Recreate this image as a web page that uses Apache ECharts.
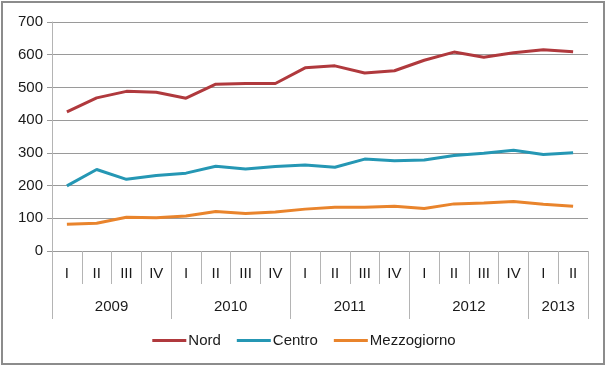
<!DOCTYPE html>
<html>
<head>
<meta charset="utf-8">
<script src="https://cdn.jsdelivr.net/npm/echarts@6/dist/echarts.min.js"></script>
<style>
  html, body { margin: 0; padding: 0; background: #fff; }
  #wrap { position: relative; width: 608px; height: 368px; }
  #chart { position: absolute; left: 0; top: 0; width: 608px; height: 368px; }
  #frame { position: absolute; left: 1px; top: 1px; width: 604px; height: 364px; box-sizing: border-box; border: 2px solid #8c8c8c; pointer-events: none; }
</style>
</head>
<body>
<div id="wrap"><div id="chart"></div><div id="frame"></div></div>
<script>
const quarters = ['I','II','III','IV','I','II','III','IV','I','II','III','IV','I','II','III','IV','I','II'];
const years = ['2009','2010','2011','2012','2013'];
const yearQuarterCounts = [4,4,4,4,2];
const yTicks = [0,100,200,300,400,500,600,700];

const nord = [425,468,488,485,467,510,512,512,560,566,544,551,583,608,592,606,615,609];
const centro = [199,249,219,231,238,259,251,258,263,256,281,276,278,292,299,308,295,300];
const mezzogiorno = [82,85,103,102,107,121,115,119,128,134,134,137,130,144,147,151,143,137];

// year boundaries and label centres (in quarter units)
const yearBounds = [0];
const yearCenters = [];
yearQuarterCounts.forEach((c, i) => {
  const start = yearBounds[yearBounds.length - 1];
  yearCenters.push(start + c / 2);
  yearBounds.push(start + c);
});

const font = 'Liberation Sans';
const chart = echarts.init(document.getElementById('chart'), null, { renderer: 'canvas' });
chart.setOption({
  animation: false,
  textStyle: { fontFamily: font },
  grid: { left: 52, right: 20, top: 22, bottom: 117, containLabel: false },
  legend: {
    bottom: 15,
    left: 'center',
    icon: 'rect',
    itemWidth: 34,
    itemHeight: 3,
    itemGap: 16,
    textStyle: { fontFamily: font, fontSize: 15, color: '#1a1a1a', padding: [0, 0, 0, -3] },
    data: ['Nord', 'Centro', 'Mezzogiorno']
  },
  xAxis: [
    {
      type: 'category',
      data: quarters,
      boundaryGap: true,
      axisLine: { show: true, lineStyle: { color: '#9a9a9a', width: 1 } },
      axisTick: { show: true, interval: 0, length: 33, lineStyle: { color: '#b4b4b4' } },
      axisLabel: { interval: 0, margin: 15, fontSize: 15, color: '#1a1a1a', fontFamily: font },
      splitLine: { show: false }
    },
    {
      type: 'value',
      position: 'bottom',
      min: 0,
      max: yearBounds[yearBounds.length - 1],
      axisLine: { show: false },
      axisTick: { show: true, length: 68, customValues: yearBounds, lineStyle: { color: '#b4b4b4' } },
      axisLabel: {
        show: true,
        customValues: yearCenters,
        margin: 48,
        fontSize: 15,
        color: '#1a1a1a',
        fontFamily: font,
        formatter: function (v) {
          const idx = yearCenters.indexOf(v);
          return idx >= 0 ? years[idx] : '';
        }
      },
      splitLine: { show: false }
    }
  ],
  yAxis: {
    type: 'value',
    min: yTicks[0],
    max: yTicks[yTicks.length - 1],
    interval: 100,
    axisLine: { show: true, lineStyle: { color: '#b4b4b4' } },
    axisTick: { show: true, length: 5, lineStyle: { color: '#9a9a9a' } },
    axisLabel: { margin: 9, fontSize: 15, color: '#1a1a1a', fontFamily: font },
    splitLine: { show: true, lineStyle: { color: '#9a9a9a', width: 1 } }
  },
  series: [
    { name: 'Nord', type: 'line', xAxisIndex: 0, data: nord, symbol: 'none', lineStyle: { width: 3, color: '#B0393D' }, itemStyle: { color: '#B0393D' } },
    { name: 'Centro', type: 'line', xAxisIndex: 0, data: centro, symbol: 'none', lineStyle: { width: 3, color: '#2597B4' }, itemStyle: { color: '#2597B4' } },
    { name: 'Mezzogiorno', type: 'line', xAxisIndex: 0, data: mezzogiorno, symbol: 'none', lineStyle: { width: 3, color: '#E9842C' }, itemStyle: { color: '#E9842C' } }
  ]
});
</script>
</body>
</html>
